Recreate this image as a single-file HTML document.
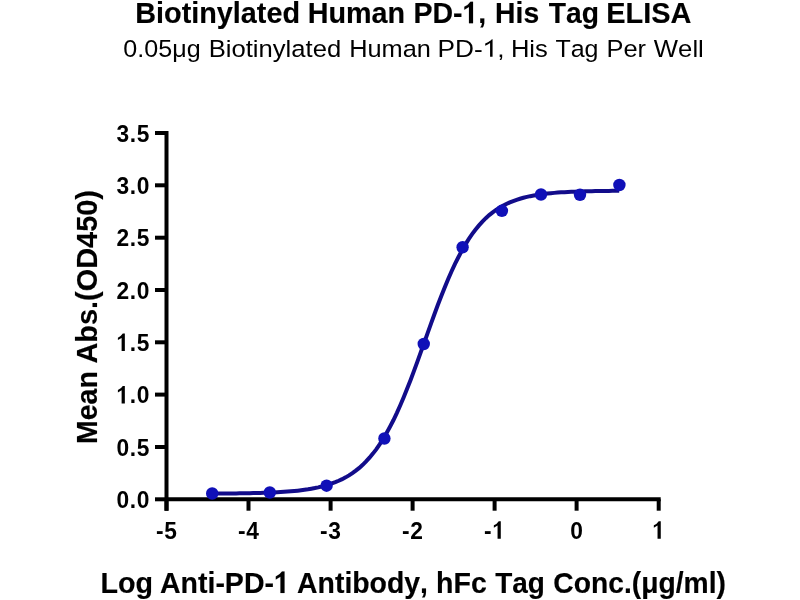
<!DOCTYPE html>
<html><head><meta charset="utf-8"><style>
html,body{margin:0;padding:0;background:#fff;width:800px;height:600px;overflow:hidden}
svg{display:block;will-change:transform}
text{font-family:"Liberation Sans",sans-serif;fill:#000;font-kerning:none}
.b{stroke:#000;stroke-width:0.15}
.b1{stroke:#000;stroke-width:0.15;vector-effect:non-scaling-stroke}
</style></head><body>
<svg width="800" height="600" viewBox="0 0 800 600">
<rect width="800" height="600" fill="#fff"/>
<text x="135.27" y="23.20" class="b" font-weight="bold" font-size="30" textLength="164.72" lengthAdjust="spacingAndGlyphs">Biotinylated</text><text x="307.78" y="23.20" class="b" font-weight="bold" font-size="30" textLength="97.40" lengthAdjust="spacingAndGlyphs">Human</text><text x="413.39" y="23.20" class="b" font-weight="bold" font-size="30" textLength="72.85" lengthAdjust="spacingAndGlyphs">PD- ,</text><path d="M0.37,0L0.228,0L0.228,0.54L0.065,0.45L0.065,0.55Q0.2,0.6 0.28,0.716L0.37,0.716Z" class="b1" transform="translate(462.48,23.20) scale(28.500,-30.000)"/><text x="495.11" y="23.20" class="b" font-weight="bold" font-size="30" textLength="44.05" lengthAdjust="spacingAndGlyphs">His</text><text x="548.68" y="23.20" class="b" font-weight="bold" font-size="30" textLength="50.21" lengthAdjust="spacingAndGlyphs">Tag</text><text x="606.32" y="23.20" class="b" font-weight="bold" font-size="30" textLength="85.15" lengthAdjust="spacingAndGlyphs">ELISA</text>
<text x="123.32" y="56.70" font-size="24.5" textLength="77.30" lengthAdjust="spacingAndGlyphs">0.05μg</text><text x="208.70" y="56.70" font-size="24.5" textLength="132.45" lengthAdjust="spacingAndGlyphs">Biotinylated</text><text x="349.17" y="56.70" font-size="24.5" textLength="81.67" lengthAdjust="spacingAndGlyphs">Human</text><text x="437.55" y="56.70" font-size="24.5" textLength="67.06" lengthAdjust="spacingAndGlyphs">PD- ,</text><path d="M0.375,0L0.28,0L0.28,0.56Q0.2,0.49 0.095,0.45L0.095,0.54Q0.2,0.58 0.3,0.66Q0.33,0.69 0.345,0.716L0.375,0.716Z" transform="translate(482.73,56.70) scale(26.234,-24.500)"/><text x="510.90" y="56.70" font-size="24.5" textLength="36.92" lengthAdjust="spacingAndGlyphs">His</text><text x="555.44" y="56.70" font-size="24.5" textLength="43.07" lengthAdjust="spacingAndGlyphs">Tag</text><text x="606.51" y="56.70" font-size="24.5" textLength="39.61" lengthAdjust="spacingAndGlyphs">Per</text><text x="653.89" y="56.70" font-size="24.5" textLength="49.93" lengthAdjust="spacingAndGlyphs">Well</text>
<text x="100.48" y="593.00" class="b" font-weight="bold" font-size="30" textLength="52.54" lengthAdjust="spacingAndGlyphs">Log</text><text x="159.99" y="593.00" class="b" font-weight="bold" font-size="30" textLength="129.82" lengthAdjust="spacingAndGlyphs">Anti-PD- </text><path d="M0.37,0L0.228,0L0.228,0.54L0.065,0.45L0.065,0.55Q0.2,0.6 0.28,0.716L0.37,0.716Z" class="b1" transform="translate(273.96,593.00) scale(28.500,-30.000)"/><text x="297.09" y="593.00" class="b" font-weight="bold" font-size="30" textLength="130.91" lengthAdjust="spacingAndGlyphs">Antibody,</text><text x="436.11" y="593.00" class="b" font-weight="bold" font-size="30" textLength="50.73" lengthAdjust="spacingAndGlyphs">hFc</text><text x="495.19" y="593.00" class="b" font-weight="bold" font-size="30" textLength="49.68" lengthAdjust="spacingAndGlyphs">Tag</text><text x="553.34" y="593.00" class="b" font-weight="bold" font-size="30" textLength="172.56" lengthAdjust="spacingAndGlyphs">Conc.(μg/ml)</text>
<g transform="translate(0,442) rotate(-90)"><text x="-1.90" y="97.00" class="b" font-weight="bold" font-size="30" textLength="72.66" lengthAdjust="spacingAndGlyphs">Mean</text><text x="78.38" y="97.00" class="b" font-weight="bold" font-size="30" textLength="173.56" lengthAdjust="spacingAndGlyphs">Abs.(OD450)</text></g>
<text x="116.42" y="508.10" font-weight="bold" font-size="24.5" textLength="12.67" lengthAdjust="spacingAndGlyphs">0</text><text x="129.81" y="508.10" font-weight="bold" font-size="24.5" textLength="6.33" lengthAdjust="spacingAndGlyphs">.</text><text x="136.85" y="508.10" font-weight="bold" font-size="24.5" textLength="12.67" lengthAdjust="spacingAndGlyphs">0</text><text x="116.42" y="455.77" font-weight="bold" font-size="24.5" textLength="12.67" lengthAdjust="spacingAndGlyphs">0</text><text x="129.81" y="455.77" font-weight="bold" font-size="24.5" textLength="6.33" lengthAdjust="spacingAndGlyphs">.</text><text x="136.85" y="455.77" font-weight="bold" font-size="24.5" textLength="12.67" lengthAdjust="spacingAndGlyphs">5</text><path d="M0.37,0L0.228,0L0.228,0.54L0.065,0.45L0.065,0.55Q0.2,0.6 0.28,0.716L0.37,0.716Z" transform="translate(116.42,403.44) scale(22.785,-24.500)"/><text x="129.81" y="403.44" font-weight="bold" font-size="24.5" textLength="6.33" lengthAdjust="spacingAndGlyphs">.</text><text x="136.85" y="403.44" font-weight="bold" font-size="24.5" textLength="12.67" lengthAdjust="spacingAndGlyphs">0</text><path d="M0.37,0L0.228,0L0.228,0.54L0.065,0.45L0.065,0.55Q0.2,0.6 0.28,0.716L0.37,0.716Z" transform="translate(116.42,351.11) scale(22.785,-24.500)"/><text x="129.81" y="351.11" font-weight="bold" font-size="24.5" textLength="6.33" lengthAdjust="spacingAndGlyphs">.</text><text x="136.85" y="351.11" font-weight="bold" font-size="24.5" textLength="12.67" lengthAdjust="spacingAndGlyphs">5</text><text x="116.42" y="298.78" font-weight="bold" font-size="24.5" textLength="12.67" lengthAdjust="spacingAndGlyphs">2</text><text x="129.81" y="298.78" font-weight="bold" font-size="24.5" textLength="6.33" lengthAdjust="spacingAndGlyphs">.</text><text x="136.85" y="298.78" font-weight="bold" font-size="24.5" textLength="12.67" lengthAdjust="spacingAndGlyphs">0</text><text x="116.42" y="246.45" font-weight="bold" font-size="24.5" textLength="12.67" lengthAdjust="spacingAndGlyphs">2</text><text x="129.81" y="246.45" font-weight="bold" font-size="24.5" textLength="6.33" lengthAdjust="spacingAndGlyphs">.</text><text x="136.85" y="246.45" font-weight="bold" font-size="24.5" textLength="12.67" lengthAdjust="spacingAndGlyphs">5</text><text x="116.42" y="194.12" font-weight="bold" font-size="24.5" textLength="12.67" lengthAdjust="spacingAndGlyphs">3</text><text x="129.81" y="194.12" font-weight="bold" font-size="24.5" textLength="6.33" lengthAdjust="spacingAndGlyphs">.</text><text x="136.85" y="194.12" font-weight="bold" font-size="24.5" textLength="12.67" lengthAdjust="spacingAndGlyphs">0</text><text x="116.42" y="141.79" font-weight="bold" font-size="24.5" textLength="12.67" lengthAdjust="spacingAndGlyphs">3</text><text x="129.81" y="141.79" font-weight="bold" font-size="24.5" textLength="6.33" lengthAdjust="spacingAndGlyphs">.</text><text x="136.85" y="141.79" font-weight="bold" font-size="24.5" textLength="12.67" lengthAdjust="spacingAndGlyphs">5</text><text x="155.89" y="538.70" font-weight="bold" font-size="24.5" textLength="7.59" lengthAdjust="spacingAndGlyphs">-</text><text x="164.24" y="538.70" font-weight="bold" font-size="24.5" textLength="12.67" lengthAdjust="spacingAndGlyphs">5</text><text x="237.92" y="538.70" font-weight="bold" font-size="24.5" textLength="7.59" lengthAdjust="spacingAndGlyphs">-</text><text x="246.27" y="538.70" font-weight="bold" font-size="24.5" textLength="12.67" lengthAdjust="spacingAndGlyphs">4</text><text x="319.95" y="538.70" font-weight="bold" font-size="24.5" textLength="7.59" lengthAdjust="spacingAndGlyphs">-</text><text x="328.30" y="538.70" font-weight="bold" font-size="24.5" textLength="12.67" lengthAdjust="spacingAndGlyphs">3</text><text x="401.98" y="538.70" font-weight="bold" font-size="24.5" textLength="7.59" lengthAdjust="spacingAndGlyphs">-</text><text x="410.33" y="538.70" font-weight="bold" font-size="24.5" textLength="12.67" lengthAdjust="spacingAndGlyphs">2</text><text x="484.01" y="538.70" font-weight="bold" font-size="24.5" textLength="7.59" lengthAdjust="spacingAndGlyphs">-</text><path d="M0.37,0L0.228,0L0.228,0.54L0.065,0.45L0.065,0.55Q0.2,0.6 0.28,0.716L0.37,0.716Z" transform="translate(492.36,538.70) scale(22.785,-24.500)"/><text x="570.31" y="538.70" font-weight="bold" font-size="24.5" textLength="12.67" lengthAdjust="spacingAndGlyphs">0</text><path d="M0.37,0L0.228,0L0.228,0.54L0.065,0.45L0.065,0.55Q0.2,0.6 0.28,0.716L0.37,0.716Z" transform="translate(652.34,538.70) scale(22.785,-24.500)"/>
<g stroke="#000" stroke-width="4" fill="none">
<line x1="166.5" y1="131" x2="166.5" y2="510.7"/>
<line x1="166.5" y1="499.3" x2="660.7" y2="499.3"/>
<line x1="155" y1="499.3" x2="166.5" y2="499.3"/><line x1="155" y1="447.0" x2="166.5" y2="447.0"/><line x1="155" y1="394.6" x2="166.5" y2="394.6"/><line x1="155" y1="342.3" x2="166.5" y2="342.3"/><line x1="155" y1="290.0" x2="166.5" y2="290.0"/><line x1="155" y1="237.7" x2="166.5" y2="237.7"/><line x1="155" y1="185.3" x2="166.5" y2="185.3"/><line x1="155" y1="133.0" x2="166.5" y2="133.0"/><line x1="166.5" y1="499.3" x2="166.5" y2="510.7"/><line x1="248.5" y1="499.3" x2="248.5" y2="510.7"/><line x1="330.6" y1="499.3" x2="330.6" y2="510.7"/><line x1="412.6" y1="499.3" x2="412.6" y2="510.7"/><line x1="494.6" y1="499.3" x2="494.6" y2="510.7"/><line x1="576.6" y1="499.3" x2="576.6" y2="510.7"/><line x1="658.7" y1="499.3" x2="658.7" y2="510.7"/>
</g>
<path d="M212.2,493.60 L215.6,493.58 L219.0,493.56 L222.5,493.53 L225.9,493.50 L229.3,493.47 L232.7,493.44 L236.1,493.40 L239.6,493.35 L243.0,493.30 L246.4,493.24 L249.8,493.18 L253.2,493.10 L256.7,493.02 L260.1,492.92 L263.5,492.82 L266.9,492.70 L270.3,492.56 L273.8,492.41 L277.2,492.24 L280.6,492.05 L284.0,491.83 L287.4,491.58 L290.9,491.30 L294.3,490.99 L297.7,490.64 L301.1,490.24 L304.5,489.79 L308.0,489.29 L311.4,488.72 L314.8,488.08 L318.2,487.36 L321.6,486.56 L325.1,485.65 L328.5,484.63 L331.9,483.49 L335.3,482.21 L338.7,480.77 L342.2,479.17 L345.6,477.37 L349.0,475.37 L352.4,473.14 L355.8,470.65 L359.3,467.89 L362.7,464.84 L366.1,461.45 L369.5,457.72 L372.9,453.61 L376.4,449.11 L379.8,444.19 L383.2,438.84 L386.6,433.03 L390.0,426.77 L393.5,420.04 L396.9,412.86 L400.3,405.23 L403.7,397.19 L407.1,388.75 L410.6,379.96 L414.0,370.88 L417.4,361.57 L420.8,352.08 L424.3,342.50 L427.7,332.90 L431.1,323.37 L434.5,313.96 L437.9,304.76 L441.4,295.84 L444.8,287.24 L448.2,279.03 L451.6,271.23 L455.0,263.87 L458.5,256.99 L461.9,250.57 L465.3,244.63 L468.7,239.15 L472.1,234.13 L475.6,229.55 L479.0,225.39 L482.4,221.61 L485.8,218.20 L489.2,215.13 L492.7,212.38 L496.1,209.91 L499.5,207.70 L502.9,205.74 L506.3,203.98 L509.8,202.43 L513.2,201.04 L516.6,199.82 L520.0,198.73 L523.4,197.77 L526.9,196.92 L530.3,196.17 L533.7,195.51 L537.1,194.92 L540.5,194.40 L544.0,193.95 L547.4,193.55 L550.8,193.19 L554.2,192.88 L557.6,192.61 L561.1,192.37 L564.5,192.16 L567.9,191.97 L571.3,191.81 L574.7,191.66 L578.2,191.53 L581.6,191.42 L585.0,191.32 L588.4,191.24 L591.8,191.16 L595.3,191.10 L598.7,191.04 L602.1,190.99 L605.5,190.94 L608.9,190.90 L612.4,190.87 L615.8,190.83 L619.2,190.81" fill="none" stroke="#120c8a" stroke-width="4"/>
<g fill="#1010b8"><circle cx="212.2" cy="493.5" r="6.2"/><circle cx="269.8" cy="492.5" r="6.2"/><circle cx="326.6" cy="485.7" r="6.2"/><circle cx="384.4" cy="438.5" r="6.2"/><circle cx="423.75" cy="344" r="6.2"/><circle cx="462.6" cy="247.25" r="6.2"/><circle cx="501.9" cy="210.8" r="6.2"/><circle cx="541" cy="194.5" r="6.2"/><circle cx="580" cy="194.8" r="6.2"/><circle cx="619.4" cy="185" r="6.2"/></g>
</svg>
</body></html>
